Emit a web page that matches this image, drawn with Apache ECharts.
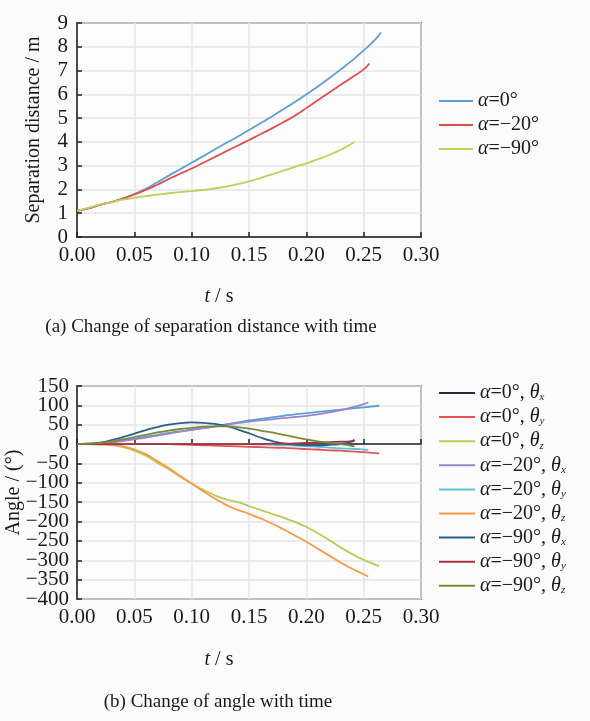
<!DOCTYPE html>
<html>
<head>
<meta charset="utf-8">
<script src="https://cdn.jsdelivr.net/npm/echarts@6/dist/echarts.min.js"></script>
<style>
html, body { margin: 0; padding: 0; background: #fbfbfb; }
#main { width: 590px; height: 721px; }
</style>
</head>
<body>
<div id="main"></div>
<script>
// (a) separation distance, m
var tA0 = [0, 0.01, 0.02, 0.03, 0.04, 0.05, 0.06, 0.07, 0.08, 0.09, 0.10, 0.11, 0.12, 0.13, 0.14, 0.15, 0.16, 0.17, 0.18, 0.19, 0.20, 0.21, 0.22, 0.23, 0.24, 0.25, 0.26, 0.265];
var dA0 = [1.1, 1.2, 1.35, 1.47, 1.62, 1.8, 2.03, 2.3, 2.58, 2.85, 3.12, 3.4, 3.68, 3.95, 4.22, 4.5, 4.78, 5.07, 5.37, 5.68, 6.0, 6.33, 6.68, 7.05, 7.43, 7.85, 8.3, 8.6];
var tA20 = [0, 0.01, 0.02, 0.03, 0.04, 0.05, 0.06, 0.07, 0.08, 0.09, 0.10, 0.11, 0.12, 0.13, 0.14, 0.15, 0.16, 0.17, 0.18, 0.19, 0.20, 0.21, 0.22, 0.23, 0.24, 0.25, 0.255];
var dA20 = [1.1, 1.2, 1.35, 1.47, 1.62, 1.79, 1.98, 2.2, 2.44, 2.66, 2.88, 3.12, 3.36, 3.6, 3.84, 4.08, 4.32, 4.57, 4.83, 5.1, 5.42, 5.75, 6.08, 6.4, 6.72, 7.05, 7.3];
var tA90 = [0, 0.01, 0.02, 0.03, 0.04, 0.05, 0.06, 0.07, 0.08, 0.09, 0.10, 0.11, 0.12, 0.13, 0.14, 0.15, 0.16, 0.17, 0.18, 0.19, 0.20, 0.21, 0.22, 0.23, 0.242];
var dA90 = [1.1, 1.22, 1.36, 1.47, 1.57, 1.65, 1.72, 1.78, 1.84, 1.89, 1.93, 1.98, 2.04, 2.12, 2.22, 2.34, 2.48, 2.63, 2.79, 2.95, 3.1, 3.27, 3.45, 3.67, 4.0];

// (b) angles, degrees
var t0 = [0, 0.01, 0.02, 0.03, 0.04, 0.05, 0.06, 0.07, 0.08, 0.09, 0.10, 0.11, 0.12, 0.13, 0.14, 0.15, 0.16, 0.17, 0.18, 0.19, 0.20, 0.21, 0.22, 0.23, 0.24, 0.25, 0.2635];
var a0x = [0, 0.5, 2, 5, 9, 14, 19, 24, 29, 33, 37, 41, 46, 51, 56, 61, 65, 69, 73, 77, 80, 83, 86, 89, 92, 95, 99];
var a0y = [0, 0, 0, 0, 0, 0, 0, 0, 0, -1, -2, -3, -4, -5, -6, -7, -8, -9, -10, -11, -13, -14, -16, -17, -19, -21, -24];
var a0z = [0, 0, -1, -3, -8, -17, -30, -48, -65, -84, -102, -118, -132, -143, -150, -160, -170, -180, -190, -201, -214, -230, -248, -267, -284, -299, -315];
var t20 = [0, 0.01, 0.02, 0.03, 0.04, 0.05, 0.06, 0.07, 0.08, 0.09, 0.10, 0.11, 0.12, 0.13, 0.14, 0.15, 0.16, 0.17, 0.18, 0.19, 0.20, 0.21, 0.22, 0.23, 0.24, 0.25, 0.254];
var a20x = [0, 0.5, 2, 4, 8, 12, 17, 22, 27, 32, 37, 41, 45, 50, 54, 58, 61, 64, 67, 70, 73, 77, 82, 88, 95, 103, 108];
var a20y = [0, 0, 0, 0, 0, 0, 0, 0, 0, 0, 0, 0, 0, 0, 0, 0, -1, -2, -3, -4, -5, -7, -9, -11, -12, -14, -15];
var a20z = [0, 0, -1, -2, -6, -14, -26, -44, -62, -82, -102, -122, -140, -157, -170, -180, -192, -205, -220, -236, -252, -270, -288, -306, -322, -336, -342];
var t90 = [0, 0.01, 0.02, 0.03, 0.04, 0.05, 0.06, 0.07, 0.08, 0.09, 0.10, 0.11, 0.12, 0.13, 0.14, 0.15, 0.16, 0.17, 0.18, 0.19, 0.20, 0.21, 0.22, 0.23, 0.238, 0.242];
var a90x = [0, 1, 4, 10, 18, 27, 36, 44, 50, 54, 56, 55, 52, 47, 38, 28, 17, 8, 2, -1, -3, -3, -2, 0, 5, 11];
var a90y = [0, 0, 0, 0, 0, 0, 0, 0, 0, 0, 0, 0, 0, 0, 0, 0, 0, 1, 1, 2, 3, 4, 5, 6, 7, 8];
var a90z = [0, 1, 3, 7, 12, 18, 24, 30, 35, 39, 42, 45, 46, 46, 44, 40, 35, 30, 24, 18, 12, 7, 3, 0, -4, -6];

var alphaNames = ['α=0°', 'α=−20°', 'α=−90°'];
var axisNames = ['x', 'y', 'z'];
var topColors = ['#5d9fd0', '#dc5050', '#c3cd5a'];
var angleColors = ['#5a9fd4', '#e05656', '#b9cc57', '#9a86c8', '#5cc3d9', '#f59b4c', '#2b5f90', '#a8323f', '#7b8a36'];

function zip(ts, vs) {
  return ts.map(function (t, i) { return [t, vs[i]]; });
}

var serif = 'Liberation Serif';
var ink = '#1a1a1a';
var richText = {
  i: { fontFamily: serif, fontSize: 20, fontStyle: 'italic', color: ink, lineHeight: 20 },
  s: { fontFamily: serif, fontSize: 11, fontStyle: 'italic', color: ink, lineHeight: 12, verticalAlign: 'bottom' }
};
function legendFmt(name) {
  return name.replace('α', '{i|α}').replace(/θ(.)$/, '{i|θ}{s|$1}');
}
function minus(v) { return String(v).replace('-', '−'); }

var chart = echarts.init(document.getElementById('main'));

var topData = [zip(tA0, dA0), zip(tA20, dA20), zip(tA90, dA90)];
var angleData = [
  zip(t0, a0x), zip(t0, a0y), zip(t0, a0z),
  zip(t20, a20x), zip(t20, a20y), zip(t20, a20z),
  zip(t90, a90x), zip(t90, a90y), zip(t90, a90z)
];

var series = [];
topData.forEach(function (d, i) {
  series.push({
    name: alphaNames[i], type: 'line', xAxisIndex: 0, yAxisIndex: 0,
    data: d, smooth: true, symbol: 'none', animation: false,
    lineStyle: { color: topColors[i], width: 1.8 }, itemStyle: { color: topColors[i] }
  });
});
var angleNames = [];
angleData.forEach(function (d, k) {
  var nm = alphaNames[Math.floor(k / 3)] + ', θ' + axisNames[k % 3];
  angleNames.push(nm);
  series.push({
    name: nm, type: 'line', xAxisIndex: 1, yAxisIndex: 1,
    data: d, smooth: true, symbol: 'none', animation: false,
    lineStyle: { color: angleColors[k], width: 1.8 }, itemStyle: { color: angleColors[k] }
  });
});

var angleLegend = angleNames.map(function (nm, k) {
  // the legend key of the first one is drawn dark in the original
  if (k === 0) return { name: nm, lineStyle: { color: '#1f2e3e' }, itemStyle: { color: '#1f2e3e' } };
  return { name: nm };
});

function xAxisCfg(idx) {
  return {
    type: 'value', gridIndex: idx, min: 0, max: 0.3, interval: 0.05,
    axisLine: { show: true, lineStyle: { color: '#222', width: 1.5 } },
    axisTick: { show: true, inside: true, length: 5, lineStyle: { color: '#222', width: 1.5 } },
    axisLabel: { color: ink, fontFamily: serif, fontSize: 21, margin: 8, showMinLabel: true, showMaxLabel: true,
      formatter: function (v) { return v.toFixed(2); } },
    splitLine: { show: true, lineStyle: { color: '#e5e5e5', width: 1.5 } }
  };
}

var option = {
  backgroundColor: '#fbfbfb',
  animation: false,
  grid: [
    { left: 77, top: 23, width: 344, height: 214, outerBoundsMode: 'none', containLabel: false,
      show: true, borderColor: '#222', borderWidth: 1.5, backgroundColor: '#fdfdfd' },
    { left: 77, top: 386, width: 344, height: 213, outerBoundsMode: 'none', containLabel: false,
      show: true, borderColor: '#222', borderWidth: 1.5, backgroundColor: '#fdfdfd' }
  ],
  xAxis: [xAxisCfg(0), xAxisCfg(1)],
  yAxis: [
    {
      type: 'value', gridIndex: 0, min: 0, max: 9, interval: 1,
      name: 'Separation distance / m', nameLocation: 'middle', nameGap: 33, nameMoveOverlap: false,
      nameTextStyle: { color: ink, fontFamily: serif, fontSize: 20 },
      axisLine: { show: true, lineStyle: { color: '#222', width: 1.5 } },
      axisTick: { show: true, inside: true, length: 5, lineStyle: { color: '#222', width: 1.5 } },
      axisLabel: { color: ink, fontFamily: serif, fontSize: 21, margin: 9, showMinLabel: true, showMaxLabel: true },
      splitLine: { show: true, lineStyle: { color: '#e5e5e5', width: 1.5 } }
    },
    {
      // angle axis: labels at multiples of 100
      type: 'value', gridIndex: 1, min: -400, max: 150, interval: 50,
      name: 'Angle / (°)', nameLocation: 'middle', nameGap: 53, nameMoveOverlap: false,
      nameTextStyle: { color: ink, fontFamily: serif, fontSize: 20 },
      axisLine: { show: true, lineStyle: { color: '#222', width: 1.5 } },
      axisTick: { show: true, inside: true, length: 5, lineStyle: { color: '#222', width: 1.5 } },
      axisLabel: { color: ink, fontFamily: serif, fontSize: 21, margin: 8, showMinLabel: true, showMaxLabel: true,
        formatter: function (v) { return v % 100 === 0 ? minus(v) : ''; } },
      splitLine: { show: true, lineStyle: { color: '#e5e5e5', width: 1.5 } }
    },
    {
      // same scale, only the odd labels (±50, 150 …)
      type: 'value', gridIndex: 1, position: 'left', offset: 0, min: -400, max: 150, interval: 50,
      axisLine: { show: false }, axisTick: { show: false }, splitLine: { show: false },
      axisLabel: { color: ink, fontFamily: serif, fontSize: 21, margin: 8, showMinLabel: true, showMaxLabel: true,
        formatter: function (v) { return v % 100 !== 0 ? minus(v) : ''; } }
    }
  ],
  legend: [
    {
      data: alphaNames, orient: 'vertical', left: 434, top: 86,
      itemWidth: 34, itemHeight: 14, itemGap: 4, icon: 'path://M0,6 L34,6 L34,8 L0,8 Z',
      textStyle: { color: ink, fontFamily: serif, fontSize: 20, lineHeight: 20, rich: richText },
      formatter: legendFmt
    },
    {
      data: angleLegend, orient: 'vertical', left: 434, top: 378,
      itemWidth: 36, itemHeight: 14, itemGap: 4.1, icon: 'path://M0,6 L36,6 L36,8 L0,8 Z',
      textStyle: { color: ink, fontFamily: serif, fontSize: 20, lineHeight: 20, rich: richText },
      formatter: legendFmt
    }
  ],
  graphic: [
    { type: 'text', x: 219, y: 297, style: { text: '{i|t} / s', rich: { i: { fontFamily: serif, fontSize: 20, fontStyle: 'italic', fill: ink } }, font: '20px "Liberation Serif"', fill: ink, align: 'center', verticalAlign: 'middle' } },
    { type: 'text', x: 211, y: 327, style: { text: '(a) Change of separation distance with time', font: '19px "Liberation Serif"', fill: ink, align: 'center', verticalAlign: 'middle' } },
    { type: 'text', x: 219, y: 660, style: { text: '{i|t} / s', rich: { i: { fontFamily: serif, fontSize: 20, fontStyle: 'italic', fill: ink } }, font: '20px "Liberation Serif"', fill: ink, align: 'center', verticalAlign: 'middle' } },
    { type: 'text', x: 218, y: 702, style: { text: '(b) Change of angle with time', font: '19px "Liberation Serif"', fill: ink, align: 'center', verticalAlign: 'middle' } }
  ],
  series: series
};
chart.setOption(option);
</script>
</body>
</html>
